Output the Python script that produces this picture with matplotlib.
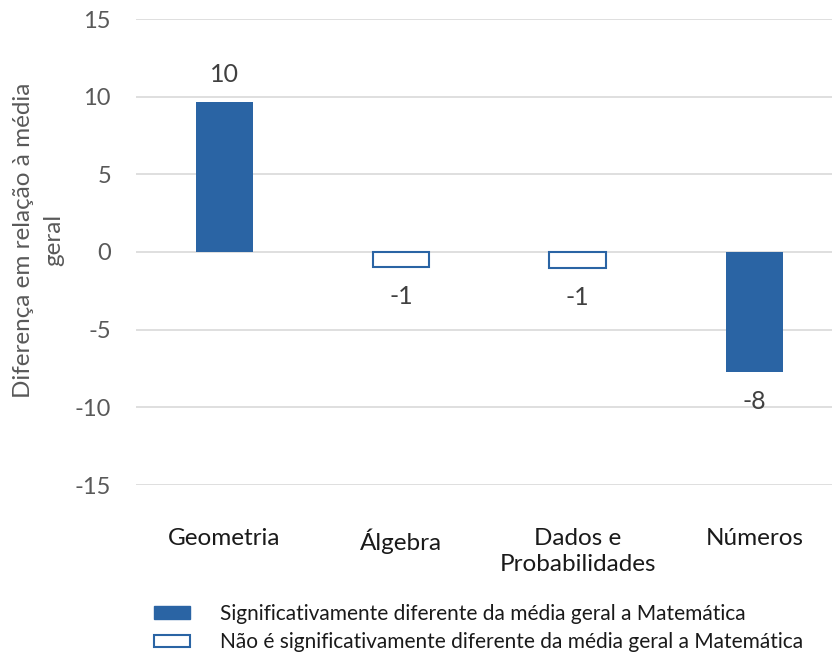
import numpy as np
import matplotlib.pyplot as plt
from matplotlib.patches import Patch

plt.rcParams["font.family"] = ["Lato", "DejaVu Sans"]

# data
categories = ["Geometria", "Álgebra", "Dados e\nProbabilidades", "Números"]
values = [9.68, -0.97, -1.0, -7.74]
value_labels = ["10", "-1", "-1", "-8"]
significant = [True, False, False, True]
yticks = [-15, -10, -5, 0, 5, 10, 15]
legend_labels = [
    "Significativamente diferente da média geral a Matemática",
    "Não é significativamente diferente da média geral a Matemática",
]

blue = "#2A64A4"
grey_txt = "#595959"

fig = plt.figure(figsize=(8.32, 6.53), dpi=100)
ax = fig.add_axes([136 / 832, 1 - 485 / 653, 1 - 136 / 832, (485 - 19) / 653])

x = np.arange(len(categories))
for i in range(len(values)):
    if significant[i]:
        ax.bar(x[i], values[i], width=0.32, color=blue, zorder=3)
    else:
        ax.bar(x[i], values[i], width=0.32, facecolor="white",
               edgecolor=blue, linewidth=1.5, zorder=3)
    if values[i] >= 0:
        ax.annotate(value_labels[i], (x[i], values[i]), xytext=(0, 11),
                    textcoords="offset points", ha="center", va="bottom",
                    fontsize=18, color="#404040")
    else:
        ax.annotate(value_labels[i], (x[i], values[i]), xytext=(0, -13),
                    textcoords="offset points", ha="center", va="top",
                    fontsize=18, color="#404040")

ax.set_ylim(-15, 15)
ax.set_xlim(-0.5, 3.44)
ax.set_yticks(yticks)
ax.set_yticklabels([str(t) for t in yticks], fontsize=17, color=grey_txt)
ax.set_xticks(x)
ax.set_xticklabels(categories, fontsize=17.5, color="#1a1a1a", linespacing=1.3)
ax.tick_params(axis="x", length=0, pad=31)
ax.tick_params(axis="y", length=0, pad=18)
ax.grid(axis="y", color="#D9D9D9", linewidth=1.2, zorder=0)
for s in ax.spines.values():
    s.set_visible(False)

fig.text(39 / 832, 1 - 240 / 653, "Diferença em relação à média\ngeral",
         rotation=90, ha="center", va="center", multialignment="center",
         fontsize=17.5, color=grey_txt, linespacing=1.55)

handles = [
    Patch(facecolor=blue, edgecolor=blue),
    Patch(facecolor="white", edgecolor=blue, linewidth=1.5),
]
fig.legend(handles, legend_labels, loc="upper left",
           bbox_to_anchor=(135 / 832, 1 - 585 / 653), frameon=False,
           fontsize=15, handlelength=1.75, handleheight=0.55,
           handletextpad=1.45, labelspacing=0.42, labelcolor="#1a1a1a")

fig.savefig("out.png", dpi=100)
